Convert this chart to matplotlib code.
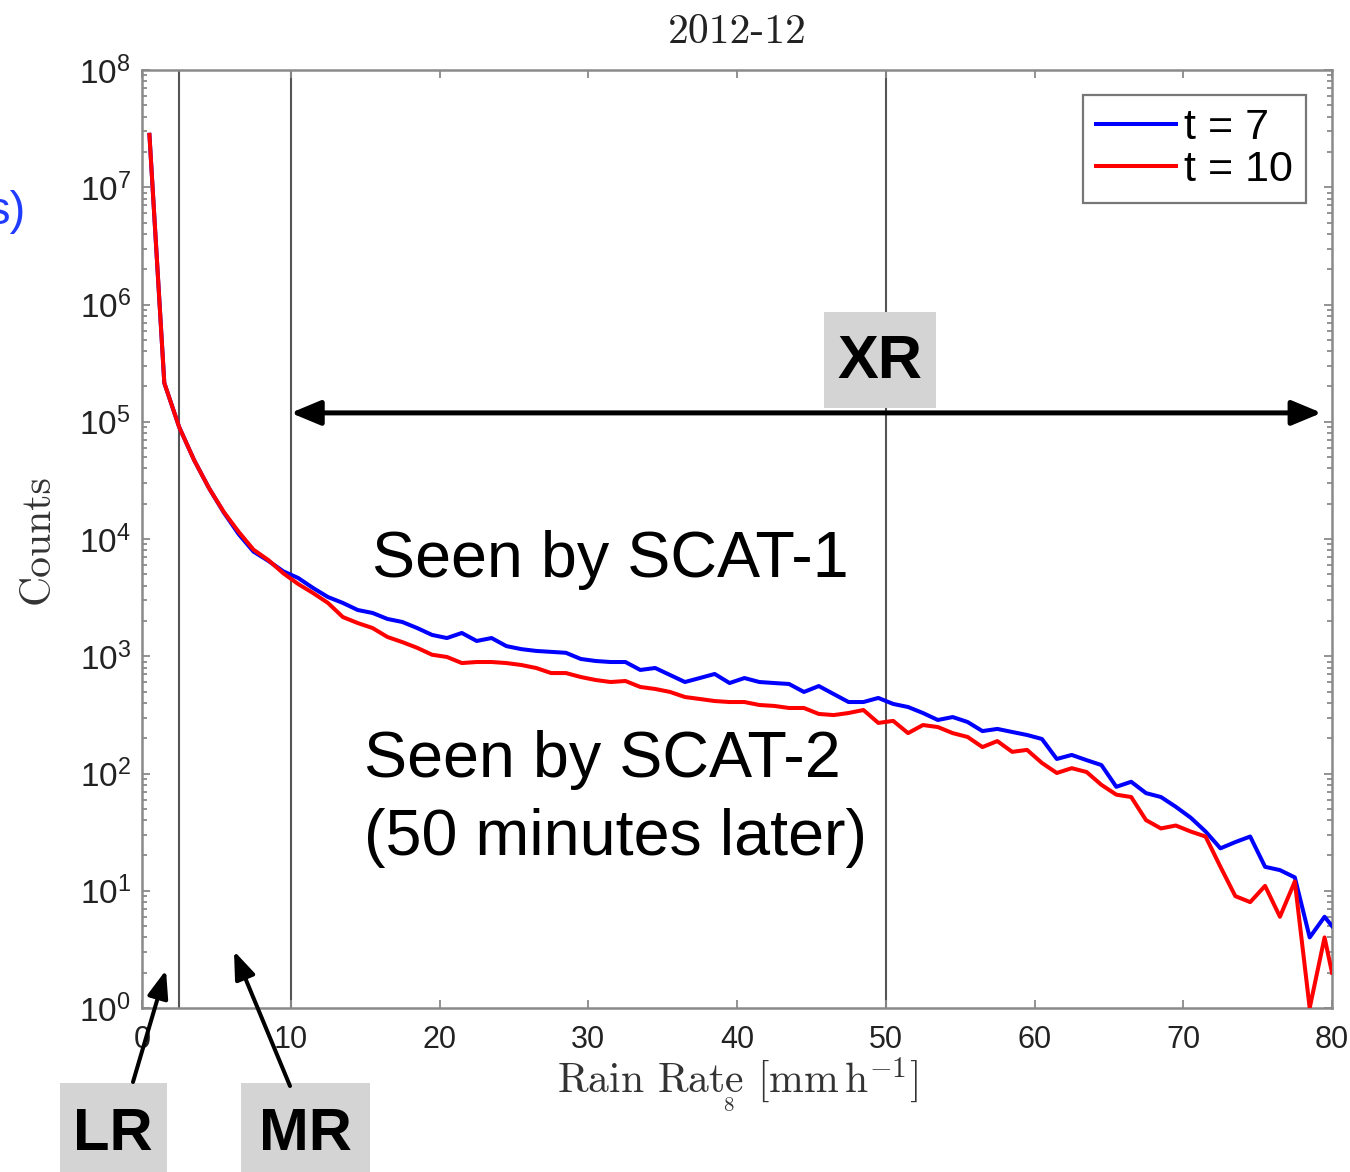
import numpy as np
import matplotlib
matplotlib.use("Agg")
import matplotlib.pyplot as plt
from matplotlib.patches import Rectangle, FancyArrowPatch
from matplotlib.ticker import FixedLocator, LogLocator, NullFormatter

plt.rcParams["font.family"] = ["Liberation Sans", "DejaVu Sans"]
plt.rcParams["mathtext.fontset"] = "custom"
plt.rcParams["mathtext.rm"] = "Liberation Sans"
plt.rcParams["mathtext.it"] = "Liberation Sans:italic"
plt.rcParams["mathtext.bf"] = "Liberation Sans:bold"

# ---- data: rain-rate histogram, December 2012 ----
rain_rate = [0.5 + i for i in range(80)] + [80.0]

counts_t7 = [
    2.8e7, 2.14e5, 9.0e4, 4.72e4, 2.72e4, 1.68e4, 1.10e4, 7.8e3, 6.5e3, 5.3e3,
    4.65e3, 3.82e3, 3.20e3, 2.85e3, 2.48e3, 2.34e3, 2.08e3, 1.96e3, 1.74e3, 1.52e3,
    1.43e3, 1.58e3, 1.35e3, 1.43e3, 1.22e3, 1.15e3, 1.11e3, 1.09e3, 1.07e3, 948,
    911, 893, 893, 764, 794, 692, 603, 652, 706, 591,
    652, 603, 591, 580, 496, 557, 476, 407, 407, 441,
    392, 369, 328, 286, 303, 275, 230, 240, 226, 213,
    197, 133, 144, 130, 118, 77, 85, 68, 63, 52,
    42, 32, 23, 26, 29, 16, 15, 13, 4, 6,
    5,
]

counts_t10 = [
    2.8e7, 2.14e5, 9.0e4, 4.72e4, 2.72e4, 1.70e4, 1.15e4, 8.1e3, 6.6e3, 5.1e3,
    4.13e3, 3.46e3, 2.85e3, 2.16e3, 1.92e3, 1.74e3, 1.46e3, 1.32e3, 1.18e3, 1.03e3,
    986, 875, 893, 893, 875, 842, 794, 719, 719, 665,
    627, 603, 615, 547, 526, 496, 449, 432, 415, 407,
    407, 384, 377, 362, 362, 322, 315, 328, 348, 270,
    281, 221, 259, 249, 221, 205, 168, 189, 153, 159,
    123, 101, 111, 103, 80, 66, 63, 40, 34, 36,
    32, 29, 16, 9, 8, 11, 6, 12, 1, 4,
    2,
]

series_labels = ["t = 7", "t = 10"]
series_colors = ["#0000ff", "#ff0000"]
region_bounds = [2.5, 10, 50]
x_ticks = [0, 10, 20, 30, 40, 50, 60, 70, 80]
y_decades = list(range(0, 9))

W, H = 1350, 1172
fig = plt.figure(figsize=(W / 100, H / 100), dpi=100)


def fx(px):
    return px / W


def fy(py):
    return 1 - py / H


ax = fig.add_axes([fx(142), fy(1008), fx(1332) - fx(142), fy(70) - fy(1008)])
ax.set_yscale("log")
ax.set_xlim(0, 80)
ax.set_ylim(1, 1e8)

frame_col = "#8a8a8a"
for sp in ax.spines.values():
    sp.set_color(frame_col)
    sp.set_linewidth(1.8)

for xb in region_bounds:
    ax.axvline(xb, color="#555555", lw=1.5, zorder=1)

ax.plot(rain_rate, counts_t7, color=series_colors[0], lw=2.9, label=series_labels[0], zorder=3)
ax.plot(rain_rate, counts_t10, color=series_colors[1], lw=2.9, label=series_labels[1], zorder=4)

ax.xaxis.set_major_locator(FixedLocator(x_ticks))
ax.set_xticklabels([str(v) for v in x_ticks])
ax.yaxis.set_major_locator(FixedLocator([10.0 ** d for d in y_decades]))
ax.set_yticklabels([r"$10^{%d}$" % d for d in y_decades])
ax.yaxis.set_minor_locator(LogLocator(base=10, subs=np.arange(2, 10), numticks=100))
ax.yaxis.set_minor_formatter(NullFormatter())

ax.tick_params(axis="both", which="both", direction="in", top=True, right=True,
               color=frame_col, width=1.3)
ax.tick_params(axis="both", which="major", length=6, labelcolor="#222222")
ax.tick_params(axis="x", which="major", labelsize=22, pad=12)
ax.tick_params(axis="y", which="major", labelsize=24, pad=8)
ax.tick_params(axis="y", which="minor", length=3.5)

# labels in Computer Modern
ax.set_ylabel("Counts", family="cmr10", fontsize=30, color="#333333")
ax.yaxis.set_label_coords((38 - 142) / 1190, 0.5)
ax.yaxis.label.set_va("center")
ax.set_xlabel(r"Rain Rate [mm$\,$h$^{-1}$]", family="cmr10", fontsize=30,
              color="#333333", math_fontfamily="cm")
ax.xaxis.set_label_coords(0.5, (1008 - 1080) / 938)
ax.xaxis.label.set_va("center")
ax.text(0.5, (1008 - 32) / 938, "2012-12", family="cmr10", fontsize=30,
        color="#222222", ha="center", va="center", transform=ax.transAxes)
fig.text(fx(728), fy(1106), "8", family="cmr10", fontsize=15, color="#333333",
         ha="center", va="center")

leg = ax.legend(loc="upper right", bbox_to_anchor=((1306 - 142) / 1190, (1008 - 95) / 938),
                borderaxespad=0, fontsize=31, handlelength=1.85, handletextpad=0.2,
                labelspacing=0.05, borderpad=0.3, fancybox=False, framealpha=1)
leg.get_frame().set_edgecolor("#777777")
leg.get_frame().set_linewidth(1.6)
for ln in leg.get_lines():
    ln.set_linewidth(2.9)

# annotations
ax.add_patch(FancyArrowPatch((10, 1.19e5), (79.3, 1.19e5),
                             arrowstyle="<|-|>,head_length=1.2,head_width=0.5",
                             mutation_scale=15, color="black", lw=3.6, zorder=5,
                             shrinkA=0, shrinkB=0))

grey_box = "#d4d4d4"
fig.patches.append(Rectangle((fx(824), fy(408)), fx(936) - fx(824), fy(312) - fy(408),
                             transform=fig.transFigure, facecolor=grey_box,
                             edgecolor="none", zorder=6))
fig.text(fx(880), fy(362), "XR", fontsize=44, fontweight="bold", ha="center",
         va="center", zorder=7)

fig.text(fx(372), fy(560), "Seen by SCAT-1", fontsize=46.5, ha="left", va="center")
fig.text(fx(364), fy(760), "Seen by SCAT-2", fontsize=46.5, ha="left", va="center")
fig.text(fx(364), fy(838), "(50 minutes later)", fontsize=46.5, ha="left", va="center")

for x0, x1, label, cx in [(60, 167, "LR", 113), (241, 370, "MR", 305)]:
    fig.patches.append(Rectangle((fx(x0), 0), fx(x1) - fx(x0), fy(1083),
                                 transform=fig.transFigure, facecolor=grey_box,
                                 edgecolor="none", zorder=6))
    fig.text(fx(cx), fy(1134), label, fontsize=43, fontweight="bold", ha="center",
             va="center", zorder=7)

for (sx, sy), (tx, ty) in [((133, 1082), (166, 970)), ((290, 1086), (234, 951))]:
    fig.patches.append(FancyArrowPatch((fx(sx), fy(sy)), (fx(tx), fy(ty)),
                                       transform=fig.transFigure,
                                       arrowstyle="-|>,head_length=1.2,head_width=0.45",
                                       mutation_scale=14, color="black", lw=2.9,
                                       shrinkA=0, shrinkB=0, zorder=8))

fig.text(fx(26), fy(212), "s)", fontsize=34, color="#1f3cff", ha="right", va="center")

fig.savefig("out.png", dpi=100)
